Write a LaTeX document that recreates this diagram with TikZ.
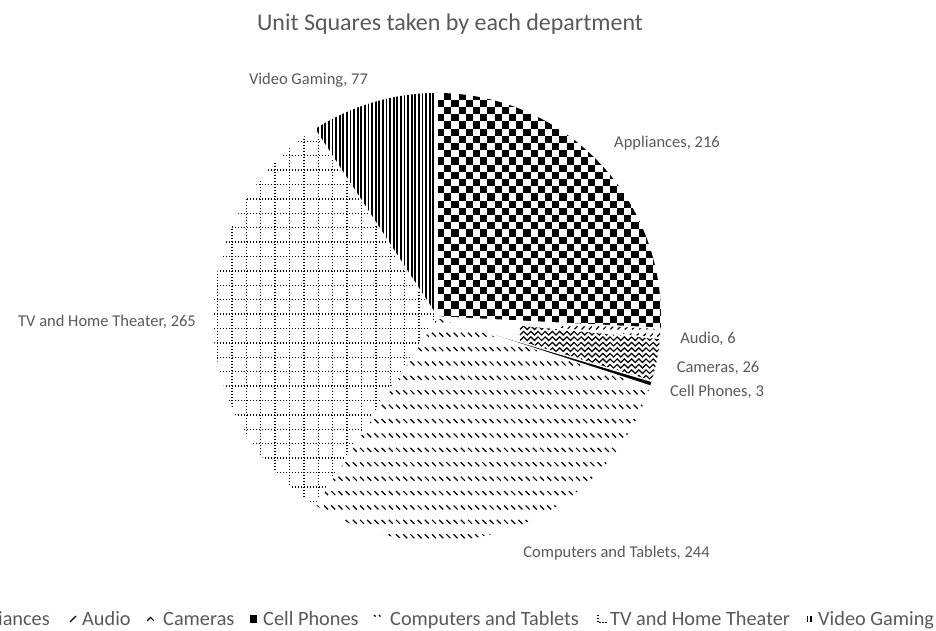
\documentclass[tikz,border=0pt]{standalone}
\usepackage{fontspec}
\setmainfont{Carlito}
\definecolor{txt}{HTML}{595959}
\begin{document}
\begin{tikzpicture}[x=1pt,y=1pt,
  lbl/.style={text=txt, font=\fontsize{16.5}{18}\selectfont, inner sep=0pt},
  leg/.style={text=txt, font=\fontsize{20.3}{22}\selectfont, inner sep=0pt, anchor=base west},
  slice/.style 2 args={insert path={(O) -- ++(#1:224) arc[start angle=#1, end angle=#2, radius=224] -- cycle}},
  sep/.style={white, line width=1.5pt}]
\useasboundingbox (0,0) rectangle (936,631);
\fill[white] (0,0) rectangle (936,631);
\coordinate (O) at (437,314);

% Appliances: large checkerboard
\begin{scope}
  \clip[slice={90}{-2.903}];
  \foreach \y [count=\k] in {290,297.2,...,545} {
    \pgfmathsetmacro\ph{mod(\k,2)*7.2}
    \draw[line width=7.2pt, dash pattern=on 7.2pt off 7.2pt, dash phase=\ph pt] (437,\y) -- (680,\y);
  }
\end{scope}

% Audio: dashed upward diagonals
\begin{scope}
  \clip[slice={-2.903}{-5.484}];
  \foreach \y [count=\k] in {280,287.2,...,320} {
    \pgfmathsetmacro\sh{mod(\k,2)*3.6}
    \draw[line width=1.2pt] \foreach \x in {560,567.2,...,670} {(\x+\sh,\y) -- ++(3,3)};
  }
\end{scope}

% Cameras: weave
\begin{scope}
  \clip[slice={-5.484}{-16.667}];
  \foreach \y in {230,235.5,...,320} {
    \draw[line width=1.2pt] (520,\y) \foreach \i in {0,...,20} { -- ++(3.6,3.6) -- ++(3.6,-3.6)};
  }
\end{scope}

% Cell Phones: solid
\fill[black, slice={-16.667}{-17.957}];

% Computers and Tablets: dashed downward diagonals
\begin{scope}
  \clip[slice={-17.957}{-122.903}];
  \foreach \y in {80.3,94.7,...,330} {
    \draw[line width=1.2pt] \foreach \x in {290,297.2,...,680} {(\x-2,\y+2) -- ++(4,-4)};
  }
\end{scope}

% TV and Home Theater: dotted grid
\begin{scope}
  \clip[slice={-122.903}{-236.882}];
  \foreach \x in {203.1,217.5,...,460} {
    \draw[line width=1.3pt, dash pattern=on 1.3pt off 1.7pt] (\x,80) -- (\x,545);
  }
  \foreach \y in {86.5,100.9,...,545} {
    \draw[line width=1.3pt, dash pattern=on 1.3pt off 1.7pt] (205,\y) -- (460,\y);
  }
\end{scope}

% Video Gaming: narrow vertical lines
\begin{scope}
  \clip[slice={-236.882}{-270}];
  \foreach \x in {300,303.6,...,440} {
    \draw[line width=1.8pt] (\x,300) -- (\x,545);
  }
\end{scope}

% white slice separators
\foreach \a in {90,-2.903,-5.484,-16.667,-17.957,-122.903,-236.882} {
  \draw[sep] (O) -- ++(\a:224);
}

% data labels
\node[lbl] (lvg) at (308.5,551) {Video Gaming, 77};
\node[lbl] (lap) at (667,488) {Appliances, 216};
\node[lbl] (ltv) at (107,309) {TV and Home Theater, 265};
\node[lbl] (lau) at (708,292) {Audio, 6};
\node[lbl] (lca) at (718,263.5) {Cameras, 26};
\node[lbl] (lcp) at (717,239) {Cell Phones, 3};
\node[lbl] (lco) at (616.5,78) {Computers and Tablets, 244};

% title
\node[text=txt, font=\fontsize{24}{28}\selectfont, inner sep=0pt] (title) at (450,607) {Unit Squares taken by each department};

% legend
\node[leg, anchor=base east] (gap) at (50,5) {Appliances};
\begin{scope}
  \clip (69,8.4) rectangle ++(8,7.2);
  \draw[line width=1.2pt] (70,9) -- ++(3,3) (73,12) -- ++(3,3);
\end{scope}
\node[leg] (gau) at (82,5) {Audio};
\begin{scope}
  \clip (147,8.4) rectangle ++(7.2,7.2);
  \draw[line width=1.1pt] (147,10) -- ++(3.6,3.6) -- ++(3.6,-3.6);
\end{scope}
\node[leg] (gca) at (163,5) {Cameras};
\fill (250,8.4) rectangle ++(7.2,7.2);
\node[leg] (gcp) at (263,5) {Cell Phones};
\draw[line width=1.2pt] (374,16) -- ++(1.6,-1.6) (379,16) -- ++(1.6,-1.6);
\node[leg] (gco) at (390,5) {Computers and Tablets};
\draw[line width=1.2pt, dash pattern=on 1.2pt off 1.8pt] (598,16) -- (598,8.4) -- (607,8.4);
\node[leg] (gtv) at (610,5) {TV and Home Theater};
\draw[line width=1.5pt] (807.5,9) -- ++(0,6) (810.8,9) -- ++(0,6);
\node[leg] (gvg) at (818,5) {Video Gaming};
\end{tikzpicture}
\end{document}
